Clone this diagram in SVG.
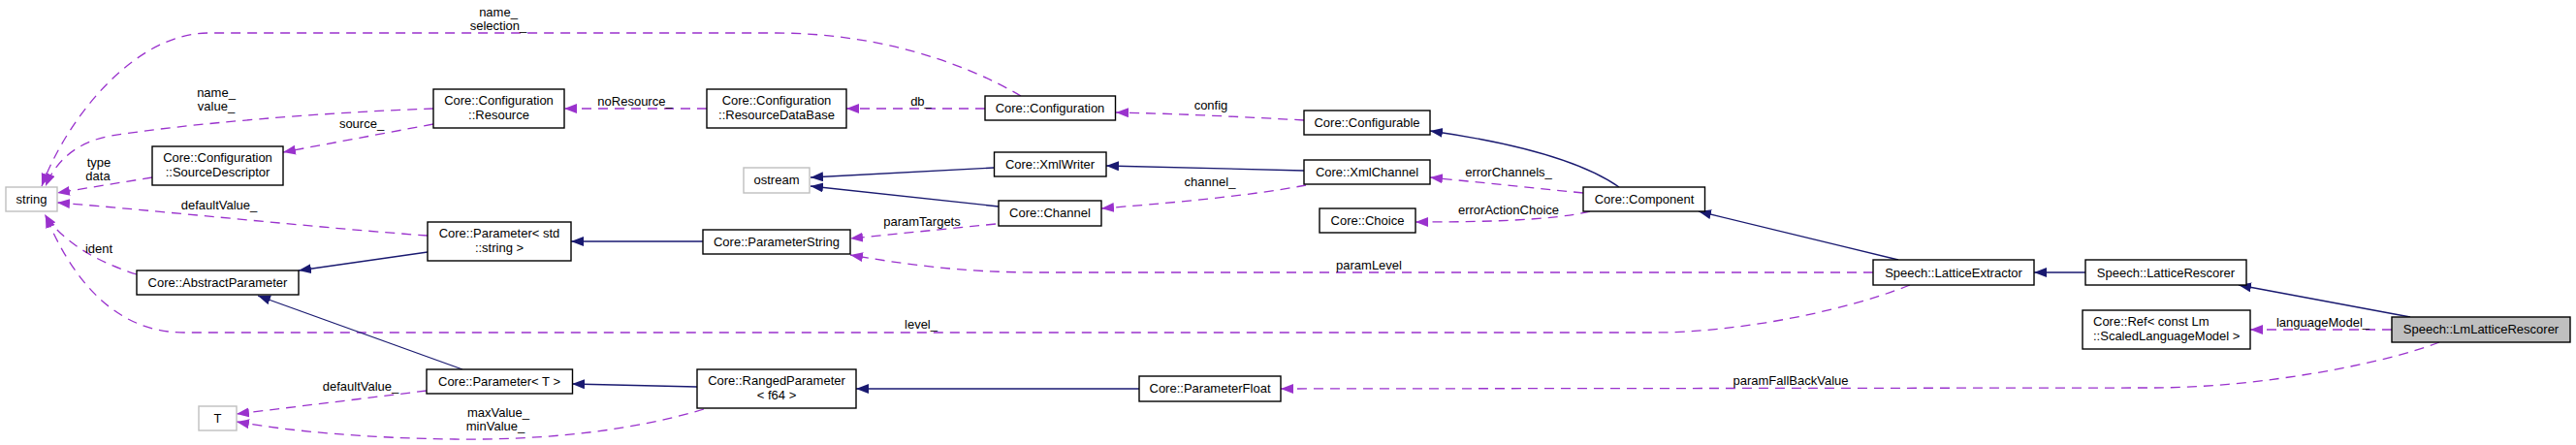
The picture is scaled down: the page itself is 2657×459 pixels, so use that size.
<svg xmlns="http://www.w3.org/2000/svg" width="2657" height="459" viewBox="0 0 2657 459">
<style>
text{font-family:"Liberation Sans",Arial,sans-serif;font-size:13px;fill:#000}
.n rect{fill:#fff;stroke:#000;stroke-width:1.4}
.n.g rect{stroke:#bfbfbf}
.n.h rect{fill:#bfbfbf}
.n text{text-anchor:middle}
.u{fill:none;stroke:#9a32cd;stroke-width:1.3;stroke-dasharray:10,7;marker-end:url(#pa)}
.i{fill:none;stroke:#191970;stroke-width:1.3;marker-end:url(#ba)}
.l text{text-anchor:middle}
</style>
<defs>
<marker id="pa" markerUnits="userSpaceOnUse" markerWidth="14" markerHeight="11" refX="13" refY="5" orient="auto"><path d="M0,0 L13,5 L0,10 z" fill="#9a32cd"/></marker>
<marker id="ba" markerUnits="userSpaceOnUse" markerWidth="14" markerHeight="11" refX="13" refY="5" orient="auto"><path d="M0,0 L13,5 L0,10 z" fill="#191970"/></marker>
</defs>
<rect width="2657" height="459" fill="#fff"/>
<g id="edges">
<path class="u" d="M1053,99 C990,62 900,34 800,34 L215,34 C140,34 70,120 43,192"/>
<path class="u" d="M447,112 C330,116 190,128 115,140 C80,146 58,165 47,192"/>
<path class="u" d="M447,128 L292,157"/>
<path class="u" d="M729,112 L582,112"/>
<path class="u" d="M1016,112 L873,112"/>
<path class="u" d="M1345,124 C1290,121 1210,117 1151,116"/>
<path class="u" d="M157,183 L59,199"/>
<path class="u" d="M441,243 C340,236 160,217 59,209"/>
<path class="u" d="M141,283 C100,270 65,250 46,221"/>
<path class="u" d="M1970,294 C1900,322 1790,343 1705,343 L190,343 C120,343 75,290 47,222"/>
<path class="i" d="M725,249 L589,249"/>
<path class="i" d="M441,260 L308,279"/>
<path class="i" d="M477,381 L266,305"/>
<path class="i" d="M719,399 L590,396"/>
<path class="i" d="M1175,401 L883,401"/>
<path class="u" d="M440,403 L244,427"/>
<path class="u" d="M726,422 C650,445 560,454 469,453 C380,452 300,445 244,435"/>
<path class="i" d="M1025,173 L836,183"/>
<path class="i" d="M1030,213 L836,192"/>
<path class="i" d="M1345,176 L1141,171"/>
<path class="u" d="M1347,191 C1290,202 1200,210 1136,215"/>
<path class="u" d="M1027,231 L877,246"/>
<path class="i" d="M1670,193 C1640,172 1580,150 1475,135"/>
<path class="u" d="M1633,199 L1475,183"/>
<path class="u" d="M1640,218 C1600,228 1520,229 1460,229"/>
<path class="i" d="M1958,268 L1752,218"/>
<path class="u" d="M1932,281 L1070,281 C990,281 930,272 877,263"/>
<path class="i" d="M2151,281 L2098,281"/>
<path class="i" d="M2486,327 L2309,294"/>
<path class="u" d="M2467,340 L2321,340"/>
<path class="u" d="M2516,353 C2460,375 2330,400 2220,400 L1321,401"/>
</g>
<g id="edge-labels" class="l">
<text x="514" y="16.5">name_</text><text x="514" y="30.5">selection_</text>
<text x="223" y="99.5">name_</text><text x="223" y="113.5">value_</text>
<text x="373" y="131.5">source_</text>
<text x="655" y="108.5">noResource_</text>
<text x="950" y="108.5">db_</text>
<text x="1249" y="112.5">config</text>
<text x="102" y="171.5">type</text><text x="101" y="185.5">data</text>
<text x="226" y="215.5">defaultValue_</text>
<text x="102" y="260.5">ident</text>
<text x="950" y="339">level_</text>
<text x="951" y="232.5">paramTargets</text>
<text x="1248" y="191.5">channel_</text>
<text x="1556" y="181.5">errorChannels_</text>
<text x="1556" y="220.5">errorActionChoice</text>
<text x="1412" y="277.5">paramLevel</text>
<text x="2396" y="336.5">languageModel_</text>
<text x="1847" y="396.5">paramFallBackValue</text>
<text x="372" y="402.5">defaultValue_</text>
<text x="514" y="429.5">maxValue_</text><text x="511" y="443.5">minValue_</text>
</g>
<g id="string" class="n g"><rect x="6" y="193" width="53" height="25"/><text x="32.5" y="210">string</text></g>
<g id="resource" class="n"><rect x="447" y="92" width="135" height="40"/><text x="514.5" y="108">Core::Configuration</text><text x="514.5" y="123">::Resource</text></g>
<g id="sourcedescriptor" class="n"><rect x="157" y="151" width="135" height="40"/><text x="224.5" y="167">Core::Configuration</text><text x="224.5" y="181.5">::SourceDescriptor</text></g>
<g id="resourcedatabase" class="n"><rect x="729" y="92" width="144" height="40"/><text x="801" y="108">Core::Configuration</text><text x="801" y="123">::ResourceDataBase</text></g>
<g id="configuration" class="n"><rect x="1016" y="99" width="134.5" height="25"/><text x="1083" y="115.5">Core::Configuration</text></g>
<g id="configurable" class="n"><rect x="1345" y="114" width="130" height="25"/><text x="1410" y="131">Core::Configurable</text></g>
<g id="ostream" class="n g"><rect x="767" y="173" width="68" height="26"/><text x="801" y="190">ostream</text></g>
<g id="xmlwriter" class="n"><rect x="1025.5" y="157" width="115.5" height="25"/><text x="1083" y="173.5">Core::XmlWriter</text></g>
<g id="xmlchannel" class="n"><rect x="1345" y="165" width="130" height="25"/><text x="1410" y="181.5">Core::XmlChannel</text></g>
<g id="channel" class="n"><rect x="1030" y="207" width="106" height="26"/><text x="1083" y="223.5">Core::Channel</text></g>
<g id="component" class="n"><rect x="1633" y="193" width="125.5" height="25"/><text x="1696" y="209.5">Core::Component</text></g>
<g id="choice" class="n"><rect x="1361" y="215" width="99" height="25"/><text x="1410.5" y="231.5">Core::Choice</text></g>
<g id="parameter-string" class="n"><rect x="441" y="229" width="148" height="40"/><text x="515" y="244.5">Core::Parameter&lt; std</text><text x="515" y="260">::string &gt;</text></g>
<g id="parameterstring" class="n"><rect x="725" y="237" width="152" height="25"/><text x="801" y="253.5">Core::ParameterString</text></g>
<g id="abstractparameter" class="n"><rect x="141" y="279" width="167" height="25"/><text x="224.5" y="295.5">Core::AbstractParameter</text></g>
<g id="parameter-t" class="n"><rect x="440" y="381" width="150.5" height="25"/><text x="515" y="397.5">Core::Parameter&lt; T &gt;</text></g>
<g id="rangedparameter" class="n"><rect x="719" y="381" width="164" height="40"/><text x="801" y="397">Core::RangedParameter</text><text x="801" y="412">&lt; f64 &gt;</text></g>
<g id="t" class="n g"><rect x="205" y="419" width="39" height="25"/><text x="224.5" y="435.5">T</text></g>
<g id="parameterfloat" class="n"><rect x="1175" y="388" width="146" height="26"/><text x="1248" y="404.5">Core::ParameterFloat</text></g>
<g id="latticeextractor" class="n"><rect x="1932" y="268" width="166" height="26"/><text x="2015" y="285.5">Speech::LatticeExtractor</text></g>
<g id="latticerescorer" class="n"><rect x="2151" y="268" width="166" height="26"/><text x="2234" y="285.5">Speech::LatticeRescorer</text></g>
<g id="ref" class="n"><rect x="2148" y="320" width="173" height="40"/><text x="2159" y="336" style="text-anchor:start">Core::Ref&lt; const Lm</text><text x="2159" y="351" style="text-anchor:start">::ScaledLanguageModel &gt;</text></g>
<g id="lmlatticerescorer" class="n h"><rect x="2467" y="327" width="184" height="26"/><text x="2559" y="344">Speech::LmLatticeRescorer</text></g>
</svg>
